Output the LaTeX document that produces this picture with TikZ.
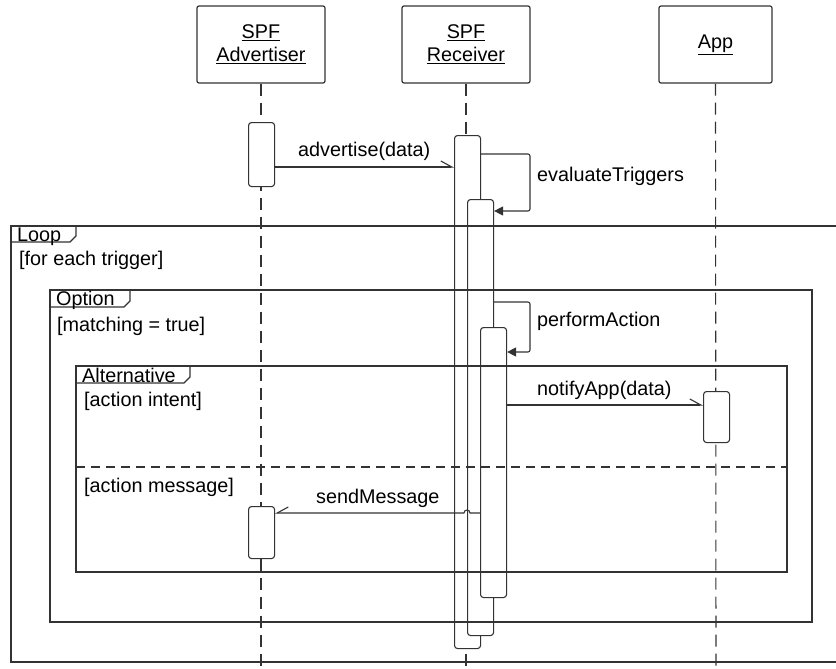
\documentclass[tikz,border=0pt]{standalone}
\usepackage{fontspec}
\setmainfont{Liberation Sans}
\usetikzlibrary{arrows.meta,calc}
\definecolor{ln}{HTML}{333333}
\tikzset{
  head/.style={draw=ln, line width=1.2pt, rounded corners=2pt, fill=white, minimum width=128pt, minimum height=77pt, align=center, inner sep=0pt, font=\fontsize{19.8}{23}\selectfont},
  act/.style={draw=ln, line width=1.1pt, rounded corners=3pt, fill=white, minimum width=26pt, inner sep=0pt, anchor=north west},
  life/.style={draw=ln, line width=1.1pt, dash pattern=on 12pt off 7pt},
  lbl/.style={inner sep=0pt, anchor=base west, font=\fontsize{19.8}{23}\selectfont},
  frm/.style={draw=ln, line width=1.3pt},
  msg/.style={draw=ln, line width=1.1pt, -{Straight Barb[left,length=11pt,width=12pt]}},
  rmsg/.style={draw=ln, line width=1.1pt, -{Straight Barb[right,length=11pt,width=12pt]}},
  self/.style={draw=ln, line width=1.1pt, rounded corners=2pt, -{Triangle[length=9pt,width=9pt]}},
}
\begin{document}
\begin{tikzpicture}[x=1pt,y=-1pt]
\useasboundingbox (0,0) rectangle (836,669);
\clip (0,0) rectangle (836,669);
\fill[white] (0,0) rectangle (836,669);
% headers
\node[head] (hadv) at (261,44.5) {\underline{SPF}\\\underline{Advertiser}};
\node[head] (hrec) at (466,44.5) {\underline{SPF}\\\underline{Receiver}};
\node[head, minimum width=113pt] (happ) at (715.5,44.5) {\underline{App}};
% lifelines
\coordinate (eadv) at (261,672);
\coordinate (erec) at (466,672);
\coordinate (eapp) at (716,672);
\draw[life] (hadv.south) -- (eadv);
\draw[life] (hrec.south) -- (erec);
\draw[life] (happ.south) -- (eapp);
% activations
\node[act, minimum height=64pt] (adv1) at (248,122) {};
\node[act, minimum height=52pt] (adv2) at (248,506) {};
\node[act, minimum height=513pt] (rec1) at (454,135) {};
\node[act, minimum height=436pt] (rec2) at (467,199) {};
\node[act, minimum height=270pt] (rec3) at (480,327) {};
\node[act, minimum height=51pt] (app1) at (703,391) {};
% frames
\draw[frm] (11,226) rectangle (850,662);
\draw[frm] (11,226) -- (76,226) -- (76,236) -- (70,242) -- (11,242);
\draw[frm] (50,290) rectangle (812,622);
\draw[frm] (50,290) -- (130,290) -- (130,301) -- (124,307) -- (50,307);
\draw[frm] (76,366) rectangle (787,572);
\draw[frm] (76,366) -- (190,366) -- (190,377) -- (184,383) -- (76,383);
\draw[draw=ln, line width=1.1pt, dash pattern=on 9pt off 6pt] (76,467) -- (787,467);
\node[lbl] (tloop) at (17,241) {Loop};
\node[lbl] (gloop) at (19,265) {[for each trigger]};
\node[lbl] (topt) at (56,305) {Option};
\node[lbl] (gopt) at (57,331) {[matching = true]};
\node[lbl] (talt) at (82,382) {Alternative};
\node[lbl] (galt1) at (84,406) {[action intent]};
\node[lbl] (galt2) at (84,492) {[action message]};
% messages
\draw[msg] (adv1.east |- 0,167) -- (rec1.west |- 0,167);
\node[lbl] (ladv) at (298,157) {advertise(data)};
\draw[self] (rec1.east |- 0,154) -- (530,154) -- (530,211) -- (rec2.east |- 0,211);
\node[lbl] (leval) at (537,181) {evaluateTriggers};
\draw[self] (rec2.east |- 0,302) -- (530,302) -- (530,352) -- (rec3.east |- 0,352);
\node[lbl] (lperf) at (537,326) {performAction};
\draw[msg] (rec3.east |- 0,405) -- (app1.west |- 0,405);
\node[lbl] (lnot) at (537,395) {notifyApp(data)};
\draw[rmsg] (rec3.west |- 0,513) -- ($(rec2.west |- 0,513)+(3,0)$) arc[start angle=0, end angle=180, radius=3pt] -- (adv2.east |- 0,513);
\node[lbl] (lsend) at (316,503) {sendMessage};
\end{tikzpicture}
\end{document}
